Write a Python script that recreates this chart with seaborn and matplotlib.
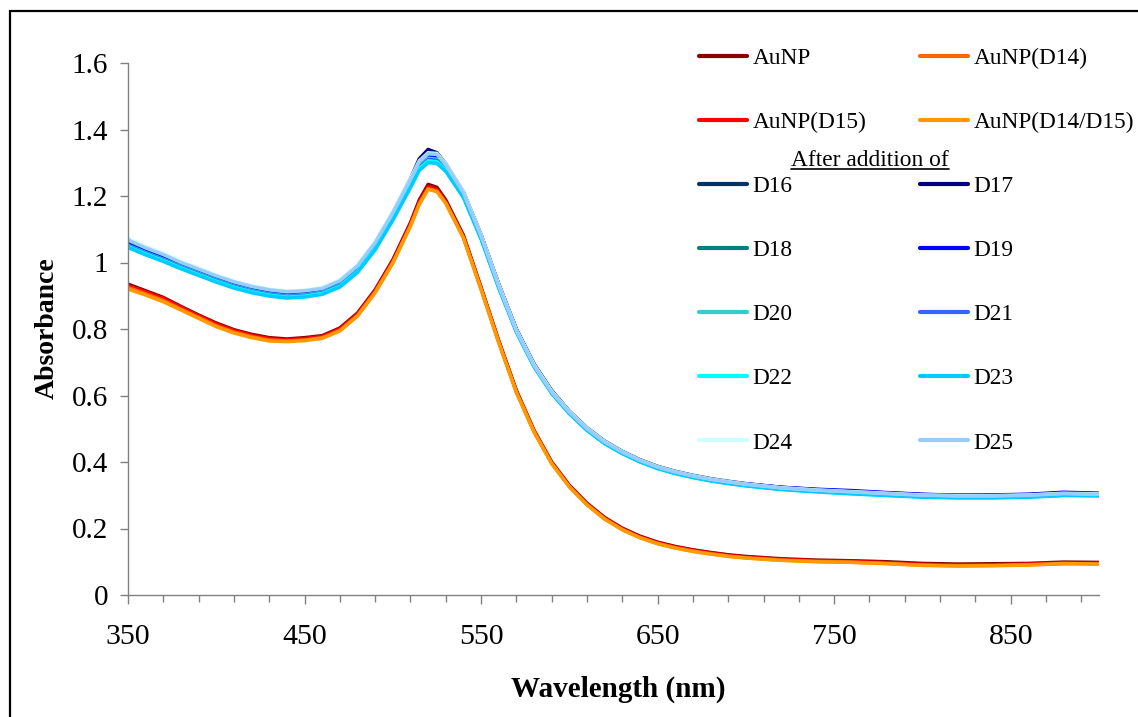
import numpy as np
import pandas as pd
import matplotlib
matplotlib.use("Agg")
import matplotlib.pyplot as plt
import seaborn as sns
from matplotlib.lines import Line2D
from matplotlib.patches import Rectangle
from matplotlib.ticker import FixedLocator, FuncFormatter

# ---------------- data ----------------
wavelength = [350, 360, 370, 380, 390, 400, 410, 420, 430, 440, 450, 460, 470, 480, 490,
              500, 510, 515, 520, 525, 530, 540, 550, 560, 570, 580, 590, 600, 610, 620, 630, 640,
              650, 660, 670, 680, 690, 700, 720, 740, 760, 780, 800, 820, 840, 860, 880, 900]

aunp = [0.935,0.915,0.895,0.868,0.842,0.818,0.798,0.784,0.774,0.770,0.774,0.780,0.803,0.848,0.918,
        1.008,1.120,1.188,1.235,1.226,1.188,1.082,0.925,0.765,0.615,0.495,0.400,0.330,0.276,0.233,0.201,0.177,
        0.159,0.146,0.136,0.128,0.121,0.116,0.109,0.105,0.103,0.100,0.095,0.093,0.094,0.095,0.099,0.098]
aunp_d15 = [0.930,0.912,0.892,0.866,0.840,0.815,0.796,0.781,0.771,0.767,0.771,0.778,0.800,0.845,0.915,
            1.004,1.115,1.182,1.228,1.220,1.183,1.078,0.922,0.762,0.612,0.493,0.398,0.328,0.274,0.231,0.199,0.175,
            0.157,0.144,0.134,0.126,0.119,0.114,0.107,0.103,0.101,0.097,0.092,0.090,0.091,0.093,0.096,0.095]
aunp_d14 = [0.925,0.906,0.886,0.860,0.835,0.810,0.791,0.777,0.767,0.764,0.767,0.774,0.796,0.841,0.911,
            1.000,1.111,1.177,1.222,1.215,1.179,1.075,0.920,0.760,0.610,0.491,0.396,0.326,0.272,0.229,0.197,0.173,
            0.155,0.142,0.132,0.124,0.117,0.112,0.105,0.101,0.099,0.095,0.090,0.088,0.089,0.091,0.094,0.094]
aunp_d14_d15 = [0.920,0.902,0.882,0.857,0.832,0.807,0.788,0.774,0.764,0.762,0.765,0.772,0.794,0.839,0.909,
                0.998,1.109,1.175,1.220,1.213,1.178,1.074,0.919,0.759,0.609,0.490,0.395,0.325,0.271,0.228,0.196,0.172,
                0.154,0.141,0.131,0.123,0.116,0.111,0.104,0.100,0.098,0.094,0.089,0.087,0.088,0.090,0.095,0.093]

d16 = [1.060,1.038,1.018,0.995,0.975,0.955,0.937,0.923,0.913,0.907,0.910,0.918,0.940,0.985,1.055,
       1.145,1.245,1.300,1.325,1.322,1.292,1.210,1.082,0.935,0.800,0.695,0.615,0.553,0.503,0.463,0.432,0.407,
       0.387,0.372,0.360,0.350,0.342,0.335,0.324,0.317,0.312,0.307,0.302,0.300,0.300,0.302,0.307,0.305]
d17 = [1.062,1.040,1.020,0.997,0.977,0.957,0.939,0.925,0.915,0.909,0.912,0.920,0.942,0.988,1.058,
       1.150,1.252,1.312,1.340,1.330,1.297,1.212,1.083,0.934,0.798,0.693,0.613,0.551,0.501,0.461,0.430,0.405,
       0.385,0.370,0.358,0.348,0.340,0.334,0.323,0.316,0.311,0.306,0.301,0.299,0.299,0.301,0.306,0.304]
d18 = [1.058,1.036,1.016,0.993,0.973,0.953,0.935,0.921,0.911,0.905,0.908,0.916,0.938,0.983,1.053,
       1.143,1.243,1.297,1.322,1.319,1.290,1.208,1.080,0.932,0.797,0.692,0.612,0.550,0.500,0.460,0.429,0.404,
       0.384,0.369,0.357,0.347,0.339,0.332,0.321,0.314,0.309,0.304,0.299,0.297,0.297,0.299,0.303,0.302]
d19 = [1.055,1.033,1.013,0.990,0.970,0.950,0.932,0.918,0.908,0.902,0.905,0.913,0.935,0.980,1.050,
       1.140,1.240,1.293,1.318,1.315,1.287,1.205,1.078,0.930,0.796,0.691,0.611,0.550,0.500,0.460,0.430,0.405,
       0.385,0.370,0.358,0.348,0.340,0.334,0.324,0.318,0.314,0.308,0.303,0.300,0.301,0.303,0.309,0.306]
d20 = [1.052,1.030,1.010,0.988,0.968,0.948,0.930,0.916,0.906,0.900,0.903,0.911,0.933,0.978,1.047,
       1.137,1.236,1.289,1.314,1.311,1.284,1.202,1.075,0.928,0.794,0.689,0.609,0.548,0.498,0.458,0.428,0.403,
       0.383,0.368,0.356,0.346,0.338,0.331,0.320,0.313,0.308,0.303,0.298,0.296,0.296,0.298,0.302,0.301]
d21 = [1.050,1.028,1.008,0.986,0.966,0.946,0.928,0.914,0.904,0.898,0.901,0.909,0.931,0.975,1.044,
       1.133,1.232,1.285,1.310,1.307,1.281,1.200,1.073,0.926,0.793,0.688,0.608,0.547,0.497,0.457,0.427,0.402,
       0.382,0.367,0.355,0.345,0.337,0.330,0.319,0.312,0.307,0.302,0.297,0.295,0.295,0.297,0.301,0.300]
d22 = [1.048,1.026,1.006,0.984,0.964,0.944,0.926,0.912,0.902,0.896,0.899,0.907,0.929,0.973,1.042,
       1.131,1.230,1.282,1.306,1.303,1.279,1.198,1.072,0.925,0.792,0.687,0.607,0.546,0.496,0.456,0.426,0.401,
       0.381,0.366,0.354,0.344,0.336,0.329,0.318,0.311,0.305,0.300,0.295,0.293,0.293,0.295,0.300,0.299]
d23 = [1.045,1.023,1.003,0.981,0.961,0.941,0.923,0.909,0.899,0.893,0.896,0.904,0.926,0.970,1.038,
       1.127,1.225,1.277,1.300,1.298,1.274,1.195,1.070,0.923,0.790,0.686,0.606,0.545,0.495,0.455,0.425,0.400,
       0.380,0.365,0.353,0.343,0.335,0.328,0.317,0.310,0.304,0.299,0.294,0.292,0.292,0.294,0.299,0.298]
d24 = [1.072,1.048,1.028,1.003,0.983,0.962,0.944,0.930,0.920,0.914,0.917,0.925,0.948,0.993,1.063,
       1.153,1.253,1.306,1.330,1.328,1.297,1.213,1.083,0.934,0.798,0.693,0.613,0.552,0.502,0.462,0.431,0.406,
       0.386,0.371,0.359,0.349,0.341,0.334,0.323,0.316,0.311,0.306,0.301,0.299,0.299,0.301,0.306,0.304]
d25 = [1.068,1.044,1.024,1.000,0.980,0.960,0.942,0.928,0.918,0.912,0.915,0.922,0.945,0.990,1.060,
       1.150,1.250,1.303,1.327,1.325,1.294,1.210,1.080,0.930,0.795,0.690,0.610,0.550,0.500,0.460,0.430,0.405,
       0.385,0.370,0.358,0.348,0.340,0.333,0.322,0.315,0.310,0.305,0.300,0.298,0.298,0.300,0.305,0.303]

series_names = ["AuNP", "AuNP(D15)", "AuNP(D14)", "AuNP(D14/D15)",
                "D16", "D17", "D18", "D19", "D20", "D21", "D22", "D23", "D24", "D25"]
series_values = [aunp, aunp_d15, aunp_d14, aunp_d14_d15,
                 d16, d17, d18, d19, d20, d21, d22, d23, d24, d25]
series_colors = {
    "AuNP": "#8B0000", "AuNP(D14)": "#FF6600", "AuNP(D15)": "#FF0000", "AuNP(D14/D15)": "#FF9900",
    "D16": "#003366", "D17": "#000080", "D18": "#008080", "D19": "#0000FF",
    "D20": "#33CCCC", "D21": "#3366FF", "D22": "#00FFFF", "D23": "#00CCFF",
    "D24": "#CCFFFF", "D25": "#99CCFF",
}
legend_order = ["AuNP", "AuNP(D15)", "D16", "D18", "D20", "D22", "D24",
                "AuNP(D14)", "AuNP(D14/D15)", "D17", "D19", "D21", "D23", "D25"]

x_major = [350, 450, 550, 650, 750, 850]
y_ticks = [0, 0.2, 0.4, 0.6, 0.8, 1.0, 1.2, 1.4, 1.6]

# ---------------- figure ----------------
sns.set_theme(style="white")
plt.rcParams["font.family"] = ["Liberation Serif", "DejaVu Serif"]

W, H = 1138, 717
fig = plt.figure(figsize=(W / 100, H / 100), dpi=100)
fig.patch.set_facecolor("white")
ax = fig.add_axes([128 / W, 1 - 595 / H, (1099 - 128) / W, (595 - 63) / H])

df = pd.concat([pd.DataFrame({"Wavelength": wavelength, "Absorbance": v, "Series": n})
                for n, v in zip(series_names, series_values)], ignore_index=True)

sns.lineplot(data=df, x="Wavelength", y="Absorbance", hue="Series",
             hue_order=series_names, palette=series_colors, linewidth=2.5,
             legend=False, ax=ax, sort=False)

ax.set_xlim(350, 900)
ax.set_ylim(0, 1.6)
for s in ["top", "right"]:
    ax.spines[s].set_visible(False)
for s in ["left", "bottom"]:
    ax.spines[s].set_color("#808080")
    ax.spines[s].set_linewidth(1.0)

ax.xaxis.set_major_locator(FixedLocator(x_major))
ax.xaxis.set_minor_locator(FixedLocator(list(range(350, 900, 20))))
ax.yaxis.set_major_locator(FixedLocator(y_ticks))
ax.yaxis.set_major_formatter(FuncFormatter(lambda v, p: "%g" % v))
ax.tick_params(axis="x", which="major", direction="out", length=6.5, width=1,
               color="#808080", labelsize=21.5, pad=14.5, bottom=True)
ax.tick_params(axis="x", which="minor", direction="out", length=5, width=1,
               color="#808080", bottom=True)
ax.tick_params(axis="y", which="major", direction="out", length=5.8, width=1,
               color="#808080", labelsize=21, pad=8.5, left=True)
for lab in ax.get_xticklabels() + ax.get_yticklabels():
    lab.set_color("black")

ax.set_xlabel("Wavelength (nm)", fontsize=21, fontweight="bold", color="black")
ax.set_ylabel("Absorbance", fontsize=20, fontweight="bold", color="black")
ax.xaxis.set_label_coords((618 - 128) / (1099 - 128), -(689 - 595) / (595 - 63))
ax.xaxis.label.set_va("center")
ax.yaxis.set_label_coords(-(128 - 47) / (1099 - 128), (595 - 328) / (595 - 63))
ax.yaxis.label.set_va("center")
ax.yaxis.label.set_ha("center")

# legend
handles = [Line2D([], [], color=series_colors[n], lw=3) for n in legend_order]
leg = ax.legend(handles, legend_order, ncol=2, loc="upper left",
                bbox_to_anchor=(699 / W, 1 - 48 / H), bbox_transform=fig.transFigure,
                frameon=False, fontsize=16.8, borderpad=0, borderaxespad=0,
                handlelength=2.07, handletextpad=0.22, columnspacing=2.3,
                labelspacing=1.83)
for t in leg.get_texts():
    t.set_color("black")

# "After addition of" underlined caption
cap = fig.text(791 / W, 1 - 166 / H, "After addition of", fontsize=16.8,
               color="black", ha="left", va="baseline")
fig.canvas.draw()
bb = cap.get_window_extent()
fig.add_artist(Line2D([bb.x0 / W, bb.x1 / W], [1 - 169 / H, 1 - 169 / H],
                      transform=fig.transFigure, color="black", lw=1.2))

# outer chart-area border
fig.add_artist(Rectangle((10 / W, -0.2), 1.5, 1.2 - 11 / H, transform=fig.transFigure,
                         fill=False, ec="black", lw=1.6))

fig.savefig("out.png", dpi=100, facecolor="white")
